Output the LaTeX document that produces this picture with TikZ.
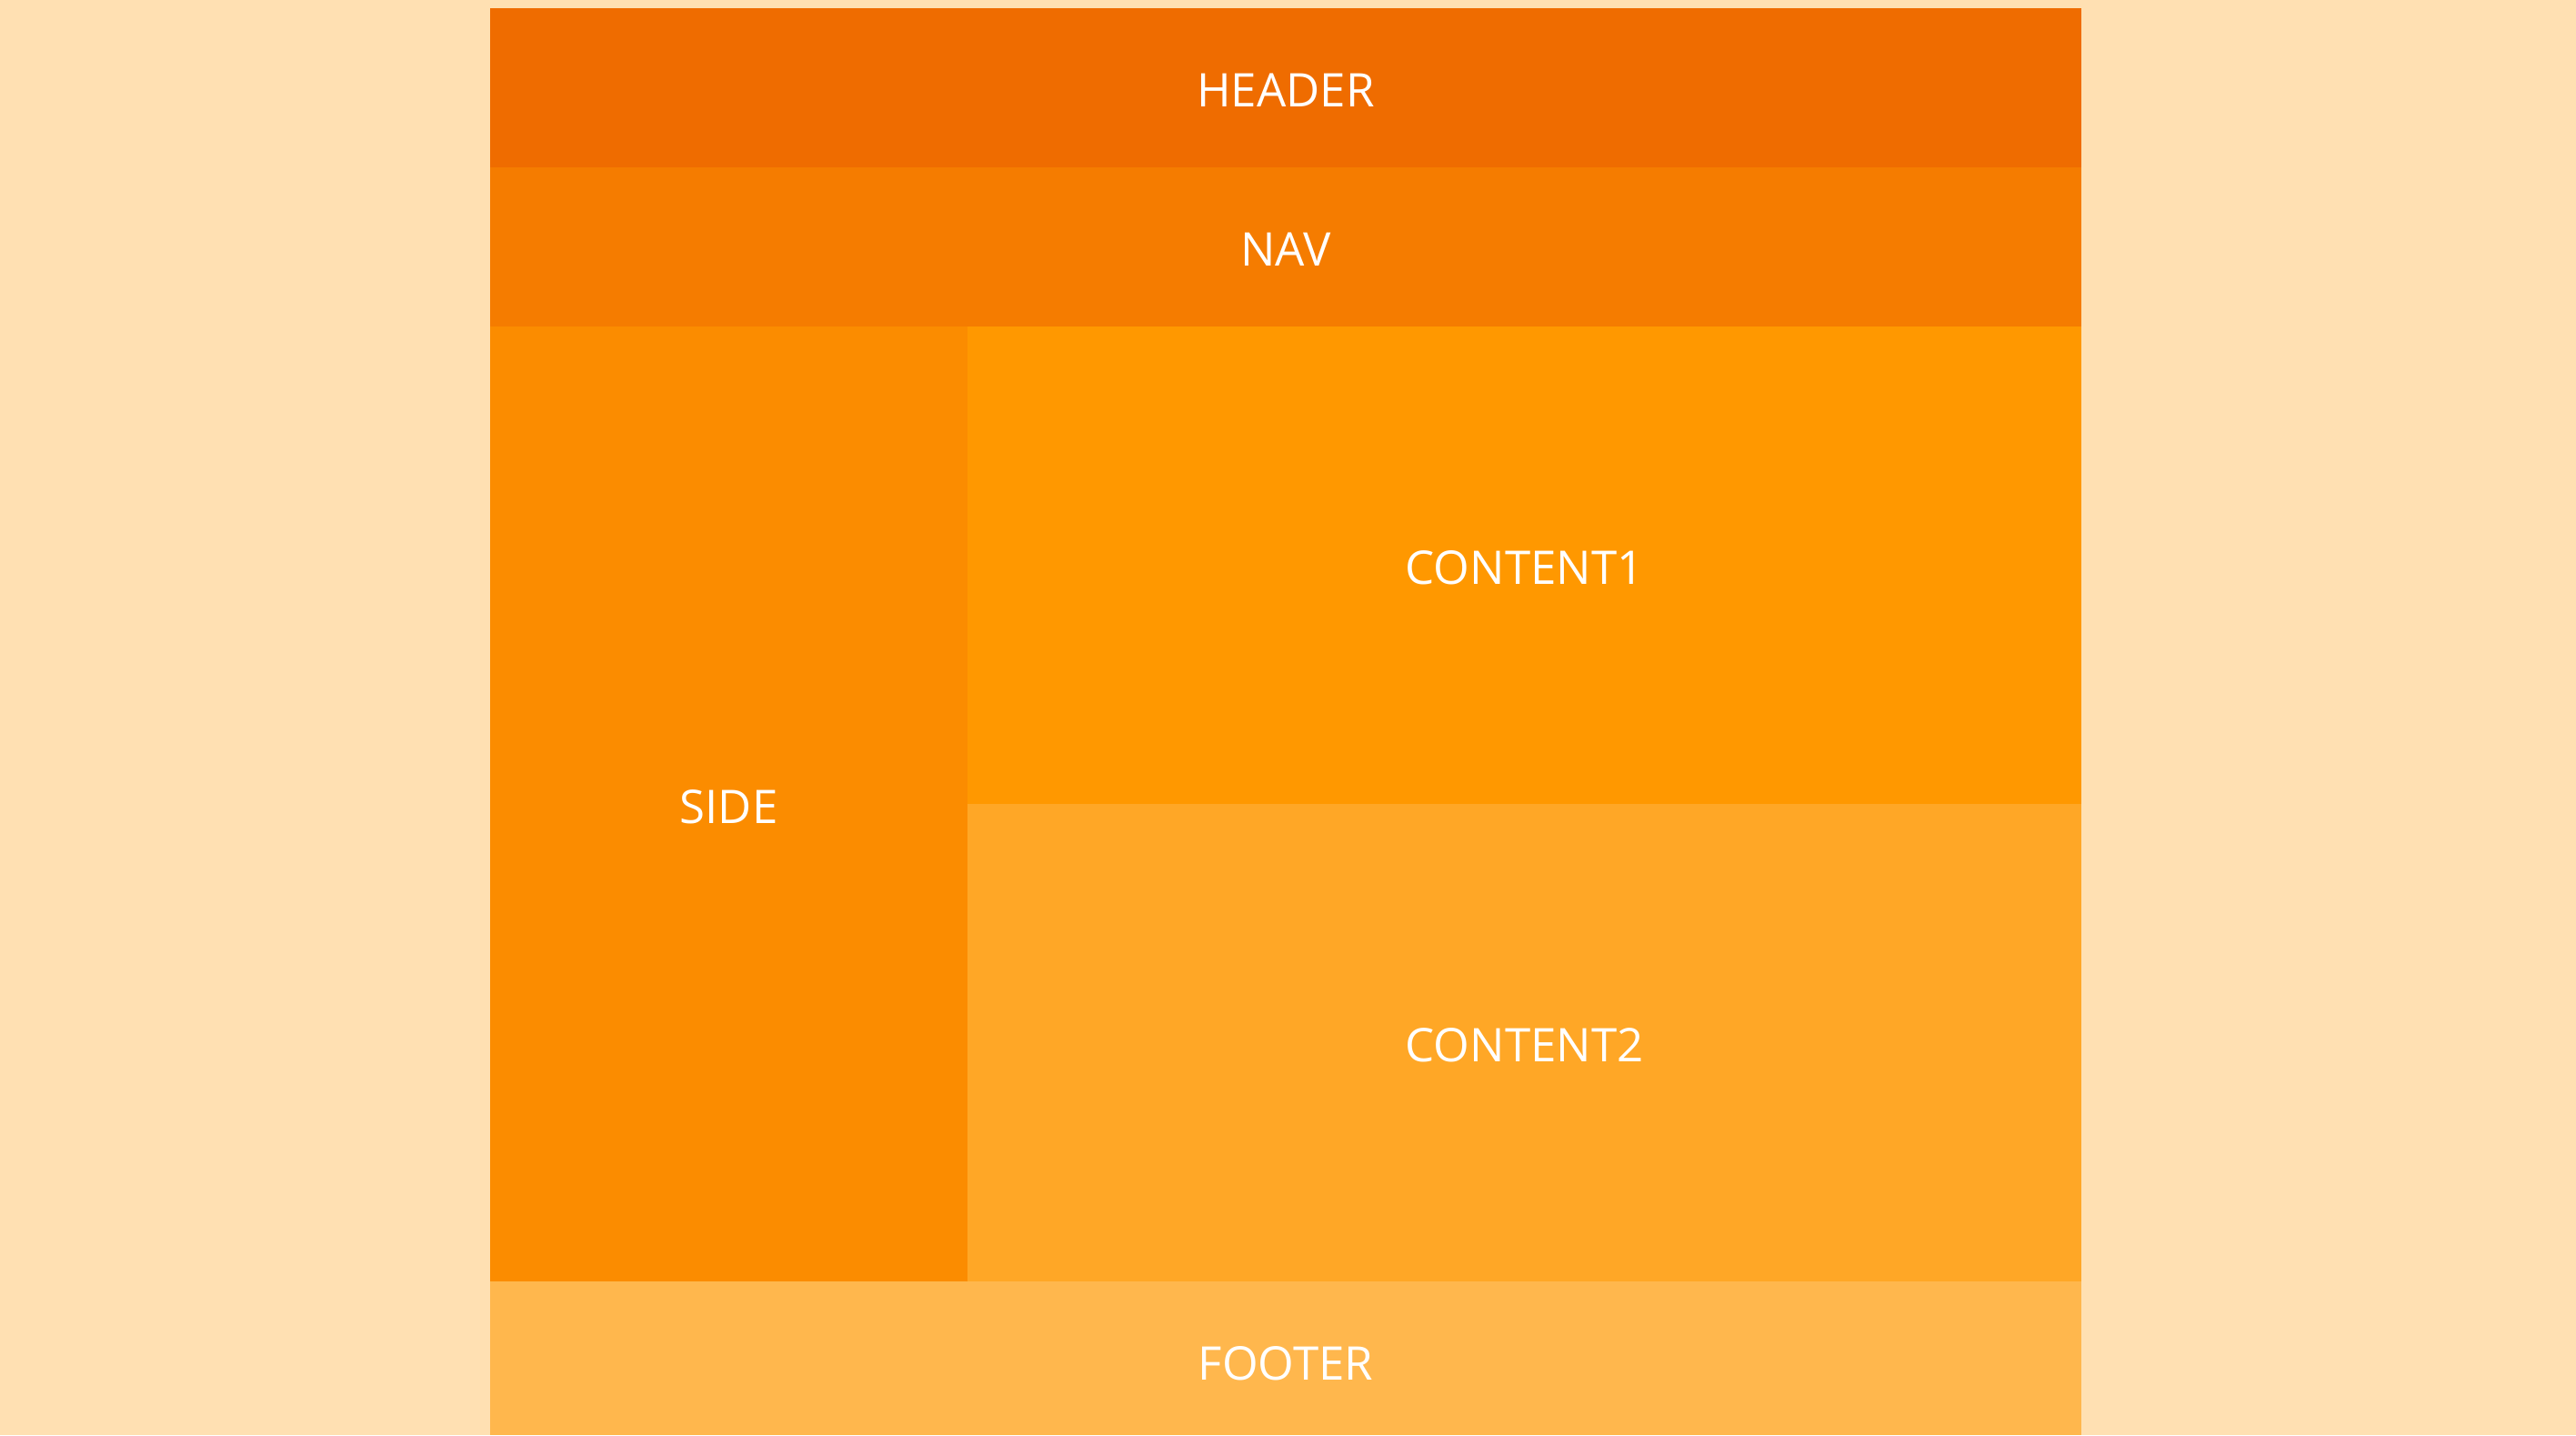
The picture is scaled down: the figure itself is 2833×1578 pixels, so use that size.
\documentclass[tikz,border=0pt]{standalone}
\usepackage{fontspec}
\setmainfont{Open Sans}
\definecolor{bgc}{HTML}{FFE0B2}
\definecolor{hdr}{HTML}{EF6C00}
\definecolor{navc}{HTML}{F57C00}
\definecolor{sidec}{HTML}{FB8C00}
\definecolor{conea}{HTML}{FF9800}
\definecolor{coneb}{HTML}{FFA726}
\definecolor{footc}{HTML}{FFB74D}
\tikzset{
  lbl/.style={text=white, font=\fontsize{14.5}{16}\selectfont, inner sep=0pt}
}
\begin{document}
\begin{tikzpicture}[x=0.01cm,y=-0.01cm]
\fill[bgc] (0,0) rectangle (2833,1578);
\useasboundingbox (0,0) rectangle (2833,1578);
\fill[hdr] (539,9) rectangle (2289,184);
\fill[navc] (539,184) rectangle (2289,359);
\fill[sidec] (539,359) rectangle (1064,1409);
\fill[conea] (1064,359) rectangle (2289,884);
\fill[coneb] (1064,884) rectangle (2289,1409);
\fill[footc] (539,1409) rectangle (2289,1578);
\node[lbl] (header) at (1414,99.5) {HEADER};
\node[lbl] (nav) at (1414,274.5) {NAV};
\node[lbl] (side) at (801.5,887) {SIDE};
\node[lbl] (content1) at (1676.5,624.5) {CONTENT1};
\node[lbl] (content2) at (1676.5,1149.5) {CONTENT2};
\node[lbl] (footer) at (1414,1499.5) {FOOTER};
\end{tikzpicture}
\end{document}
